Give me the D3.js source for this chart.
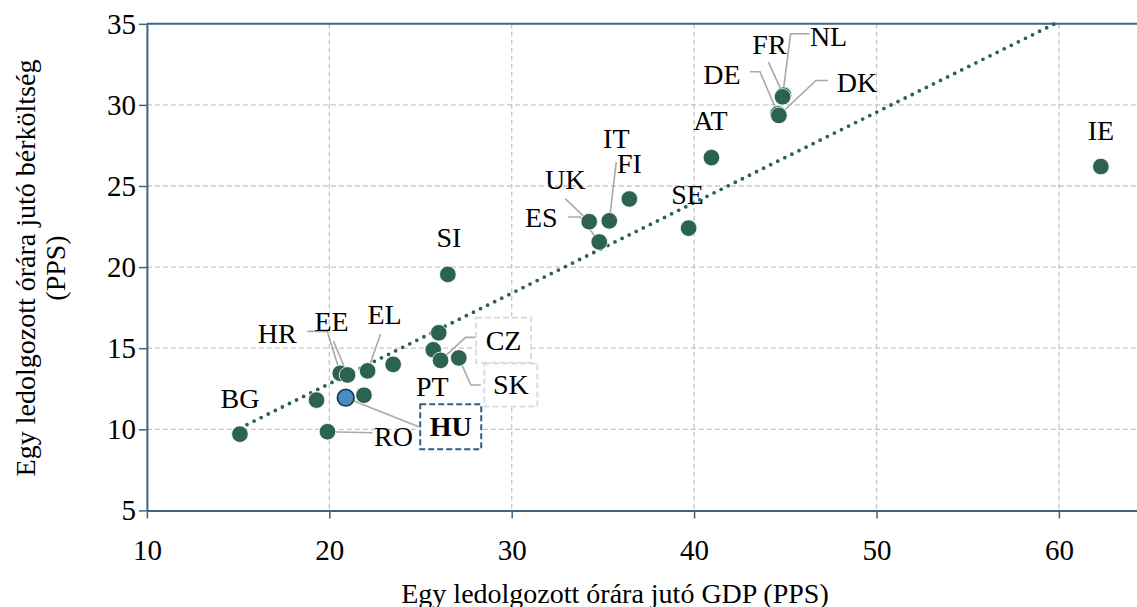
<!DOCTYPE html>
<html><head><meta charset="utf-8">
<script src="https://cdn.jsdelivr.net/npm/d3@7"></script>
<style>
html,body{margin:0;padding:0;background:#fff;}
svg text{font-family:"Liberation Serif","Times New Roman",serif;fill:#000;}
</style></head>
<body><svg id="c" width="1137" height="607"></svg>
<script>
// ---- data ----
const countries = ["BG","RO","LV","HU","PL","HR","EE","EL","LT","PT","MT","CZ","SK","SI","UK","ES","IT","FI","SE","AT","DE","DK","FR","NL","IE"];
const gdpPerHour = [15.1,19.9,19.3,20.9,21.9,20.6,21.0,22.1,23.5,25.7,26.0,26.1,27.1,26.5,34.25,34.8,35.35,36.45,39.7,40.95,44.6,44.65,44.9,44.85,62.3];
const labourCost = [9.7,9.85,11.8,11.95,12.1,13.45,13.35,13.6,14.0,14.9,15.95,14.25,14.4,19.55,22.8,21.55,22.85,24.2,22.4,26.75,29.45,29.35,30.6,30.5,26.2];
const xTicks = [10,20,30,40,50,60];
const yTicks = [5,10,15,20,25,30,35];
const trend = {slope:0.558, intercept:1.65, from:15.1};
const highlight = "HU";
const xTitle = "Egy ledolgozott órára jutó GDP (PPS)";
const yTitle = ["Egy ledolgozott órára jutó bérköltség","(PPS)"];

// ---- label layout (pixel offsets relative to point, leader elbow points) ----
const labelLayout = {
  BG:{dx:0,dy:-36},
  RO:{dx:66,dy:5, lead:[[45,1]]},
  HU:{dx:105,dy:29, lead:[[73,29]], box:{w:61,h:45,color:"#2d5f82",bold:true}},
  PT:{dx:-1,dy:37},
  HR:{dx:-63,dy:-40, lead:[[-13,-42],[-33,-42]]},
  EE:{dx:-16,dy:-53, lead:[[-14,-34]]},
  EL:{dx:17,dy:-56, lead:[[13,-37]]},
  CZ:{dx:63,dy:-20, lead:[[25,-23],[35,-23]], box:{w:55,h:45,color:"#dcdcdc"}},
  SK:{dx:52,dy:27, lead:[[12,27],[22,27]], box:{w:53,h:43,color:"#dcdcdc"}},
  SI:{dx:1,dy:-37},
  UK:{dx:-24,dy:-42, lead:[[-24,-23]]},
  ES:{dx:-58,dy:-24, lead:[[-19,-25],[-31,-25]]},
  IT:{dx:7,dy:-82, lead:[[7,-59]]},
  FI:{dx:0,dy:-35},
  SE:{dx:-1,dy:-34},
  AT:{dx:-1,dy:-37},
  DE:{dx:-56,dy:-39, lead:[[-18,-42],[-28,-42]]},
  DK:{dx:78,dy:-33, lead:[[37,-35],[49,-35]]},
  FR:{dx:-14,dy:-51, lead:[[-15,-33]]},
  NL:{dx:46,dy:-60, lead:[[8,-63],[27,-63]]},
  IE:{dx:0,dy:-36}
};

const W=1137,H=607;
const svg=d3.select("#c");
const x=d3.scaleLinear().domain([10,65]).range([146.9,146.9+55*18.24]);
const y=d3.scaleLinear().domain([5,35]).range([510.4,23.8]);
const axisColor="#3b6586";
const green="#2b6252";

// grid
svg.append("g").selectAll("line").data(xTicks.slice(1)).join("line")
  .attr("x1",d=>x(d)).attr("x2",d=>x(d)).attr("y1",y(35)).attr("y2",y(5))
  .attr("stroke","#c6c6c6").attr("stroke-width",1.3).attr("stroke-dasharray","5,3");
svg.append("g").selectAll("line").data(yTicks.slice(1,-1)).join("line")
  .attr("x1",x(10)).attr("x2",W).attr("y1",d=>y(d)).attr("y2",d=>y(d))
  .attr("stroke","#c6c6c6").attr("stroke-width",1.3).attr("stroke-dasharray","5,3");

// top border
svg.append("line").attr("x1",x(10)).attr("x2",W).attr("y1",y(35)).attr("y2",y(35))
  .attr("stroke",axisColor).attr("stroke-width",2);

// axes
const gx=svg.append("g").attr("transform",`translate(0,${y(5)})`)
  .call(d3.axisBottom(x).tickValues(xTicks).tickSize(8).tickSizeOuter(0).tickPadding(21));
const gy=svg.append("g").attr("transform",`translate(${x(10)},0)`)
  .call(d3.axisLeft(y).tickValues(yTicks).tickSize(8).tickSizeOuter(0).tickPadding(3));
[gx,gy].forEach(g=>{
  g.select(".domain").attr("stroke",axisColor).attr("stroke-width",2);
  g.selectAll(".tick line").attr("stroke",axisColor).attr("stroke-width",1.5);
  g.selectAll(".tick text").style("font-family",'"Liberation Serif",serif').style("font-size","29px").attr("fill","#000");
});

// trend line
const xEnd=(35-trend.intercept)/trend.slope;
svg.append("line")
  .attr("x1",x(trend.from)).attr("y1",y(trend.slope*trend.from+trend.intercept))
  .attr("x2",x(xEnd)).attr("y2",y(35))
  .attr("stroke",green).attr("stroke-width",3.8).attr("stroke-linecap","round")
  .attr("stroke-dasharray","0,7.9");

const pts=countries.map((c,i)=>({c,gx:gdpPerHour[i],lc:labourCost[i]}));

// leader lines
const lg=svg.append("g");
pts.forEach(p=>{
  const L=labelLayout[p.c]; if(!L||!L.lead) return;
  const px=x(p.gx),py=y(p.lc);
  const path=[[px,py]].concat(L.lead.map(e=>[px+e[0],py+e[1]]));
  lg.append("path").attr("d",d3.line()(path)).attr("fill","none")
    .attr("stroke","#a9a9a9").attr("stroke-width",1.6);
});

// points
svg.append("g").selectAll("circle").data(pts).join("circle")
  .attr("cx",d=>x(d.gx)).attr("cy",d=>y(d.lc)).attr("r",8.3)
  .attr("fill",d=>d.c===highlight?"#4b8cc2":green)
  .attr("stroke",d=>d.c===highlight?"#1d3e5c":"#fff")
  .attr("stroke-width",d=>d.c===highlight?1.8:0.8);

// labels
const tg=svg.append("g");
pts.forEach(p=>{
  const L=labelLayout[p.c]; if(!L) return;
  const px=x(p.gx)+L.dx,py=y(p.lc)+L.dy;
  if(L.box){
    tg.append("rect").attr("x",px-L.box.w/2).attr("y",py-L.box.h/2)
      .attr("width",L.box.w).attr("height",L.box.h).attr("fill","#fff")
      .attr("stroke",L.box.color).attr("stroke-width",2).attr("stroke-dasharray","6,3");
  }
  tg.append("text").attr("x",px).attr("y",py).attr("text-anchor","middle")
    .attr("dominant-baseline","central").style("font-size","28px")
    .style("font-weight",L.box&&L.box.bold?"bold":"normal").text(p.c);
});

// titles
svg.append("text").attr("x",615).attr("y",593).attr("text-anchor","middle")
  .attr("dominant-baseline","central").style("font-size","28px").text(xTitle);
const yt=svg.append("text").attr("transform","translate(25,268) rotate(-90)")
  .attr("text-anchor","middle").style("font-size","28px");
yt.append("tspan").attr("x",0).attr("dy","0.35em").text(yTitle[0]);
yt.append("tspan").attr("x",0).attr("dy","1.08em").text(yTitle[1]);
</script></body></html>
